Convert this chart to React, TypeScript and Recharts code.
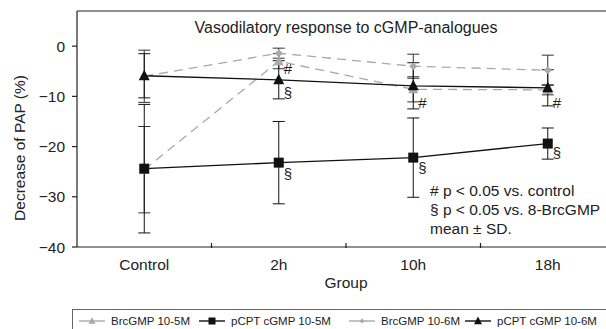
import { ErrorBar, Line, LineChart, ReferenceDot, ReferenceLine, XAxis, YAxis } from 'recharts'

const groups = ['Control', '2h', '10h', '18h']
const brc5 = [-24.6, -3.0, -8.6, -8.7]
const brc5Sd = [8.6, 1.5, 2.5, 1.0]
const pcpt5 = [-24.4, -23.2, -22.2, -19.4]
const pcpt5Sd = [12.8, 8.2, 7.9, 3.1]
const brc6 = [-6.0, -1.4, -4.0, -4.8]
const brc6Sd = [5.2, 1.0, 2.4, 3.0]
const pcpt6 = [-5.9, -6.7, -7.9, -8.3]
const pcpt6Sd = [4.4, 3.8, 4.6, 3.6]
const yTicks = [-40, -30, -20, -10, 0]

// significance marks next to the points
const markGroups = ['2h', '2h', '2h', '10h', '10h', '18h', '18h']
const markValues = [-4.5, -9.3, -25.3, -11.3, -24.2, -11.3, -21.2]
const markTexts = ['#', '§', '§', '#', '§', '#', '§']

const notes = ['# p < 0.05 vs. control', '§ p < 0.05 vs. 8-BrcGMP', 'mean ± SD.']

const legendLabels = ['BrcGMP 10-5M', 'pCPT cGMP 10-5M', 'BrcGMP 10-6M', 'pCPT cGMP 10-6M']

const data = groups.map((group, i) => ({
  group,
  brc5: brc5[i],
  brc5Sd: brc5Sd[i],
  pcpt5: pcpt5[i],
  pcpt5Sd: pcpt5Sd[i],
  brc6: brc6[i],
  brc6Sd: brc6Sd[i],
  pcpt6: pcpt6[i],
  pcpt6Sd: pcpt6Sd[i],
}))

const FONT = '"Liberation Sans", Arial, Helvetica, sans-serif'
const INK = '#222'
const GRAY = '#a9a9a9'

const W = 640
const H = 329
const margin = { top: 11, right: 25, left: 0, bottom: 52 }
const yAxisWidth = 77
const plotLeft = margin.left + yAxisWidth
const plotRight = W - margin.right
const halfBand = (plotRight - plotLeft) / groups.length / 2

type DotProps = { cx?: number; cy?: number; index?: number }
type Shape = 'triangle' | 'square' | 'diamond'

function marker(shape: Shape, fill: string, s: number, cx: number, cy: number, key?: number) {
  if (shape === 'square') return <rect key={key} x={cx - s / 2} y={cy - s / 2} width={s} height={s} fill={fill} />
  if (shape === 'diamond')
    return <polygon key={key} points={`${cx},${cy - s / 2} ${cx + s / 2},${cy} ${cx},${cy + s / 2} ${cx - s / 2},${cy}`} fill={fill} />
  return (
    <polygon
      key={key}
      points={`${cx},${cy - s * 0.55} ${cx - s / 2},${cy + s * 0.4} ${cx + s / 2},${cy + s * 0.4}`}
      fill={fill}
    />
  )
}

const dotOf = (shape: Shape, fill: string, s: number) => (p: DotProps) =>
  p.cx == null || p.cy == null ? <g key={p.index} /> : marker(shape, fill, s, p.cx, p.cy, p.index)

function XTick(props: { x?: number; y?: number; payload?: { value: string }; index?: number }) {
  const x = props.x ?? 0
  const y = props.y ?? 0
  const last = (props.index ?? 0) >= groups.length - 1
  return (
    <g>
      <text x={x} y={y + 23} textAnchor="middle" fill={INK} fontSize={15.5} fontFamily={FONT}>
        {props.payload?.value}
      </text>
      {!last && <line x1={x + halfBand} x2={x + halfBand} y1={y - 4} y2={y + 1} stroke={INK} strokeWidth={1.2} />}
    </g>
  )
}

const fmtY = (v: number) => (v < 0 ? `\u2212${Math.abs(v)}` : String(v))

const legendIcons: { shape: Shape; color: string; size: number }[] = [
  { shape: 'triangle', color: GRAY, size: 7 },
  { shape: 'square', color: '#111', size: 7 },
  { shape: 'diamond', color: GRAY, size: 5 },
  { shape: 'triangle', color: '#111', size: 8 },
]
const legendLeft = [6, 126, 276, 392]

export default function App() {
  return (
    <div
      style={{
        position: 'fixed',
        left: 0,
        top: 0,
        width: 606,
        height: 329,
        overflow: 'hidden',
        background: '#fff',
        fontFamily: FONT,
      }}
    >
      <LineChart width={W} height={H} data={data} margin={margin}>
        <XAxis
          dataKey="group"
          padding={{ left: halfBand, right: halfBand }}
          height={30}
          interval={0}
          tickLine={false}
          tickSize={0}
          tickMargin={0}
          axisLine={{ stroke: INK, strokeWidth: 1.2 }}
          tick={<XTick />}
        />
        <YAxis
          width={yAxisWidth}
          domain={[-40, 7]}
          ticks={yTicks}
          allowDataOverflow
          tickSize={5}
          tickMargin={7}
          tickFormatter={fmtY}
          axisLine={{ stroke: INK, strokeWidth: 1.2 }}
          tickLine={{ stroke: INK, strokeWidth: 1.2 }}
          tick={{ fill: INK, fontSize: 15.5, fontFamily: FONT }}
        />
        <ReferenceLine y={7} stroke={INK} strokeWidth={1.2} />

        <Line
          dataKey="brc5"
          stroke={GRAY}
          strokeWidth={1.3}
          strokeDasharray="9 6"
          dot={dotOf('triangle', GRAY, 10)}
          isAnimationActive={false}
        >
          <ErrorBar dataKey="brc5Sd" direction="y" width={6} stroke="#333" strokeWidth={1} />
        </Line>
        <Line
          dataKey="brc6"
          stroke={GRAY}
          strokeWidth={1.3}
          strokeDasharray="9 6"
          dot={dotOf('diamond', GRAY, 8)}
          isAnimationActive={false}
        >
          <ErrorBar dataKey="brc6Sd" direction="y" width={6} stroke="#333" strokeWidth={1} />
        </Line>
        <Line
          dataKey="pcpt5"
          stroke="#111"
          strokeWidth={1.3}
          dot={dotOf('square', '#111', 10)}
          isAnimationActive={false}
        >
          <ErrorBar dataKey="pcpt5Sd" direction="y" width={6} stroke="#111" strokeWidth={1} />
        </Line>
        <Line
          dataKey="pcpt6"
          stroke="#111"
          strokeWidth={1.3}
          dot={dotOf('triangle', '#111', 11)}
          isAnimationActive={false}
        >
          <ErrorBar dataKey="pcpt6Sd" direction="y" width={6} stroke="#111" strokeWidth={1} />
        </Line>

        {markTexts.map((t, i) => (
          <ReferenceDot
            key={i}
            x={markGroups[i]}
            y={markValues[i]}
            r={0}
            fill="none"
            stroke="none"
            label={{ value: t, position: 'right', offset: 5, fill: INK, fontSize: 15, fontFamily: FONT }}
          />
        ))}
      </LineChart>

      <svg width={606} height={329} style={{ position: 'absolute', left: 0, top: 0, pointerEvents: 'none' }}>
        <text x={(plotLeft + plotRight) / 2} y={33} textAnchor="middle" fontSize={16} fill={INK} fontFamily={FONT}>
          Vasodilatory response to cGMP-analogues
        </text>
        <text
          x={0}
          y={0}
          transform="translate(25,148) rotate(-90)"
          textAnchor="middle"
          fontSize={15.5}
          fill={INK}
          fontFamily={FONT}
        >
          Decrease of PAP (%)
        </text>
        <text x={(plotLeft + plotRight) / 2} y={288} textAnchor="middle" fontSize={15.5} fill={INK} fontFamily={FONT}>
          Group
        </text>
        {notes.map((n, i) => (
          <text key={i} x={430} y={196 + i * 19} fontSize={15.5} fill={INK} fontFamily={FONT}>
            {n}
          </text>
        ))}
      </svg>

      <div
        style={{
          position: 'absolute',
          left: 72,
          top: 309,
          width: 600,
          height: 30,
          border: '1px solid #666',
          boxSizing: 'border-box',
        }}
      >
        {legendLabels.map((label, i) => {
          const ic = legendIcons[i]
          return (
            <div
              key={label}
              style={{
                position: 'absolute',
                left: legendLeft[i],
                top: 2,
                height: 18,
                display: 'flex',
                alignItems: 'center',
                whiteSpace: 'nowrap',
                fontSize: 11.5,
                color: INK,
              }}
            >
              <svg width={26} height={10} style={{ marginRight: 6 }}>
                <line x1={0} x2={26} y1={5} y2={5} stroke={ic.color} strokeWidth={1.4} />
                {marker(ic.shape, ic.color, ic.size, 13, 5)}
              </svg>
              {label}
            </div>
          )
        })}
      </div>
    </div>
  )
}
